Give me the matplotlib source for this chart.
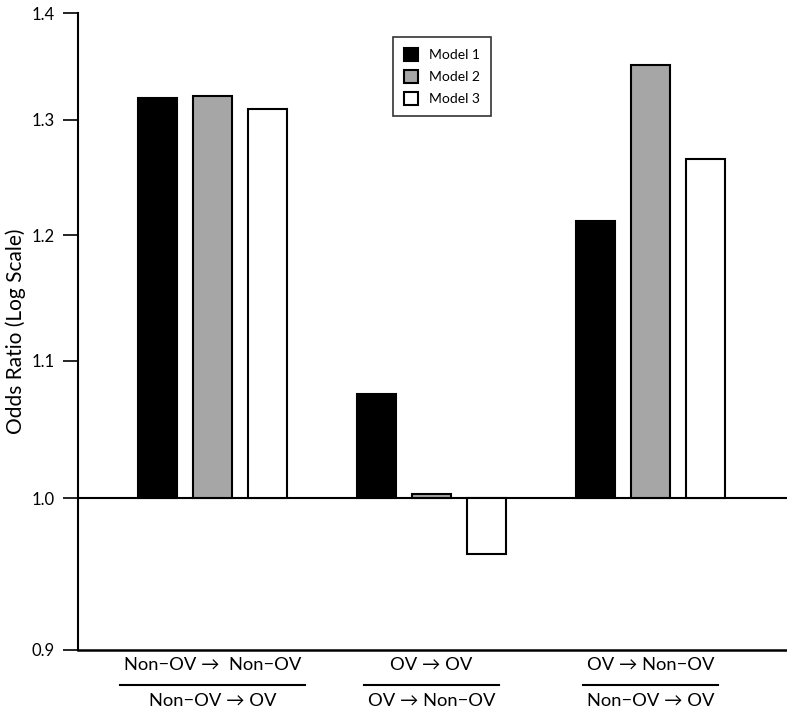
import numpy as np
import matplotlib
matplotlib.use("Agg")
import matplotlib.pyplot as plt
from matplotlib.lines import Line2D
from matplotlib.transforms import blended_transform_factory

plt.rcParams['font.family'] = ['Lato', 'DejaVu Sans']

# Data (odds ratios)
numerators = ['Non\u2212OV \u2192  Non\u2212OV', 'OV \u2192 OV', 'OV \u2192 Non\u2212OV']
denominators = ['Non\u2212OV \u2192 OV', 'OV \u2192 Non\u2212OV', 'Non\u2212OV \u2192 OV']
model_names = ['Model 1', 'Model 2', 'Model 3']
model1 = [1.320, 1.075, 1.212]
model2 = [1.322, 1.003, 1.350]
model3 = [1.310, 0.962, 1.265]
colors = ['black', '#a6a6a6', 'white']
yticks = [0.9, 1.0, 1.1, 1.2, 1.3, 1.4]

fig = plt.figure(figsize=(7.87, 7.12), dpi=100)
ax = fig.add_axes([78 / 787, 62 / 712, 709 / 787, 637 / 712])

x = np.arange(len(numerators))
offset = 0.251
width = 0.178
for i, (vals, col, name) in enumerate(zip([model1, model2, model3], colors, model_names)):
    vals = np.array(vals)
    ax.bar(x + (i - 1) * offset, vals - 1.0, bottom=1.0, width=width,
           color=col, edgecolor='black', linewidth=1.5, label=name, zorder=3)

ax.axhline(1.0, color='black', linewidth=1.5, zorder=2)

ax.set_yscale('log')
ax.set_ylim(0.9, 1.4)
ax.set_xlim(-0.614, 2.623)
ax.set_yticks(yticks)
ax.set_yticklabels(['%.1f' % t for t in yticks], fontsize=12)
ax.yaxis.set_minor_locator(matplotlib.ticker.NullLocator())
ax.tick_params(axis='y', length=11, width=1.2, pad=6)
ax.set_xticks([])
ax.spines['top'].set_visible(False)
ax.spines['right'].set_visible(False)
ax.spines['left'].set_linewidth(1.5)
ax.spines['bottom'].set_linewidth(1.8)
ax.set_ylabel('Odds Ratio (Log Scale)', fontsize=15, labelpad=4)

leg = ax.legend(loc='upper left', bbox_to_anchor=(0.444, 0.962), borderaxespad=0,
                fancybox=False, edgecolor='black', fontsize=10, handlelength=1.0,
                handleheight=1.0, handletextpad=0.8, borderpad=0.8, labelspacing=0.65)
leg.get_frame().set_linewidth(1.2)

# fraction labels under each group
trans = blended_transform_factory(ax.transData, ax.transAxes)
num_texts = []
den_texts = []
for xi, num, den in zip(x, numerators, denominators):
    num_texts.append(ax.text(xi, -0.024, num, transform=trans, ha='center', va='center',
                             fontsize=13.2))
    den_texts.append(ax.text(xi, -0.08, den, transform=trans, ha='center', va='center',
                             fontsize=13.2))

fig.canvas.draw()
renderer = fig.canvas.get_renderer()
inv = ax.transData.inverted()
for xi, t1, t2 in zip(x, num_texts, den_texts):
    w = max(t1.get_window_extent(renderer).width, t2.get_window_extent(renderer).width) + 8
    half = w / 2
    x0 = inv.transform((ax.transData.transform((xi, 1.0))[0] - half, 0))[0]
    x1 = inv.transform((ax.transData.transform((xi, 1.0))[0] + half, 0))[0]
    ax.add_line(Line2D([x0, x1], [-0.055, -0.055], transform=trans, color='black',
                       linewidth=1.5, clip_on=False))

fig.savefig('out.png', dpi=100)
